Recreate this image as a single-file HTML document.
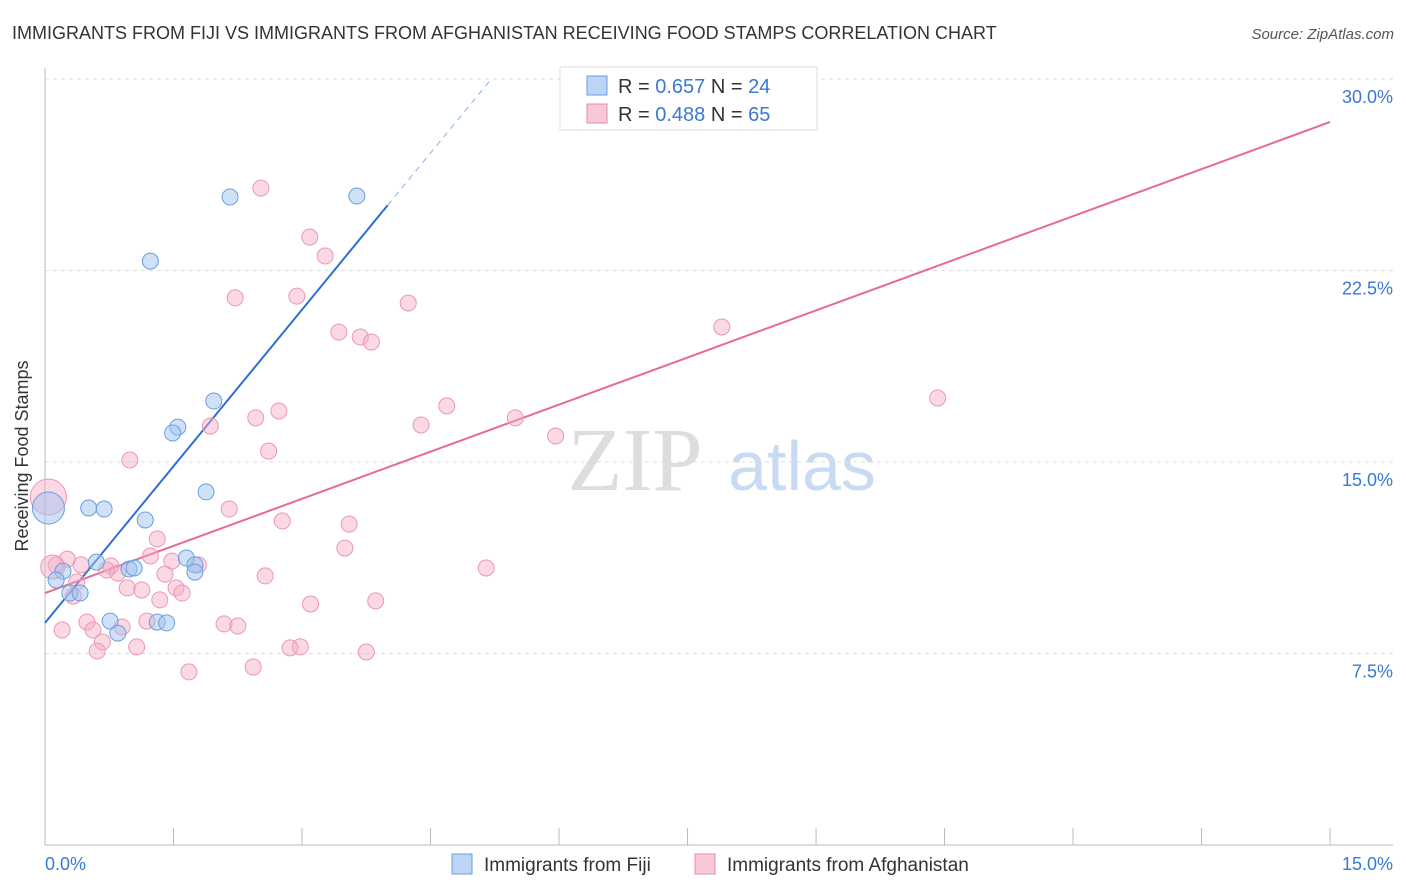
<!DOCTYPE html>
<html><head><meta charset="utf-8"><style>
body{margin:0;background:#fff;font-family:"Liberation Sans",sans-serif;}
svg{display:block}
</style></head><body>
<svg id="chart" width="1406" height="892" xmlns="http://www.w3.org/2000/svg">
<text x="12" y="39" font-size="18" fill="#333">IMMIGRANTS FROM FIJI VS IMMIGRANTS FROM AFGHANISTAN RECEIVING FOOD STAMPS CORRELATION CHART</text>
<text x="1394" y="39" font-size="15" fill="#555" font-style="italic" text-anchor="end">Source: ZipAtlas.com</text>
<text x="28" y="456" font-size="18" fill="#333" text-anchor="middle" transform="rotate(-90 28 456)">Receiving Food Stamps</text>
<g><text x="635" y="490" font-size="90" fill="#ddd" font-family="Liberation Serif,serif" text-anchor="middle">ZIP</text><text x="802" y="490" font-size="70" fill="#c9dbf2" text-anchor="middle">atlas</text></g>
<g id="grid"></g><g id="axes"></g><g id="lines"></g><g id="pts"></g>
<g>
<rect x="560" y="67" width="257" height="63" fill="#fff" stroke="#ddd"/>
<rect x="587" y="76" width="20" height="19" fill="#bcd5f5" stroke="#6a9fe0"/>
<rect x="587" y="104" width="20" height="19" fill="#f9c8d7" stroke="#e88aa8"/>
<text x="618" y="93" font-size="20" fill="#333">R = <tspan fill="#3a78d6">0.657</tspan>   N = <tspan fill="#3a78d6">24</tspan></text>
<text x="618" y="121" font-size="20" fill="#333">R = <tspan fill="#3a78d6">0.488</tspan>   N = <tspan fill="#3a78d6">65</tspan></text>
</g>
<g>
<rect x="452" y="854" width="20" height="20" fill="#bcd5f5" stroke="#6a9fe0"/>
<text x="484" y="871" font-size="19" fill="#333">Immigrants from Fiji</text>
<rect x="695" y="854" width="20" height="20" fill="#f9c8d7" stroke="#e88aa8"/>
<text x="727" y="871" font-size="19" fill="#333">Immigrants from Afghanistan</text>
</g>
</svg>
<script>
const yTicks=[7.5,15,22.5,30];
const yTickLabels=["7.5%","15.0%","22.5%","30.0%"];
const xLabels=["0.0%","15.0%"];
const fijiX=[2.16,3.64,1.23,1.97,1.55,1.49,1.88,0.51,0.69,1.17,0.04,0.60,1.65,1.75,1.75,0.21,0.13,0.98,1.04,0.29,0.41,0.76,0.85,1.31,1.42];
const fijiY=[25.38,25.42,22.87,17.39,16.37,16.14,13.83,13.20,13.16,12.73,13.20,11.08,11.24,10.97,10.69,10.73,10.38,10.81,10.85,9.87,9.87,8.77,8.30,8.73,8.70];
const fijiR=[8,8,8,8,8,8,8,8,8,8,16,8,8,8,8,8,8,8,8,8,8,8,8,8,8];
const afgX=[2.52,3.09,3.27,2.22,2.94,4.24,3.43,3.68,3.81,7.90,10.42,4.69,2.73,2.46,1.93,4.39,5.49,5.96,0.99,2.61,2.15,2.77,3.55,1.31,3.50,0.26,1.23,0.13,0.42,0.77,1.48,1.79,0.72,0.85,1.40,2.57,5.15,0.37,0.96,1.13,1.53,1.60,0.33,1.34,3.10,3.86,0.49,0.56,0.20,0.90,1.19,2.09,2.25,0.67,1.07,0.61,2.86,2.98,3.75,2.43,1.68,0.04,0.09];
const afgY=[25.73,23.81,23.07,21.43,21.50,21.23,20.09,19.90,19.70,20.29,17.51,17.20,17.00,16.73,16.41,16.45,16.73,16.02,15.08,15.43,13.16,12.69,12.57,11.99,11.63,11.20,11.32,10.97,10.97,10.93,11.12,10.97,10.77,10.65,10.61,10.54,10.85,10.30,10.07,9.99,10.07,9.87,9.75,9.60,9.44,9.56,8.73,8.42,8.42,8.54,8.77,8.66,8.58,7.95,7.76,7.60,7.72,7.76,7.56,6.97,6.78,13.63,10.89];
const fijiLine=[0,8.70,5.22,30.05];
const afgLine=[0,9.87,15,28.32];
const sx=v=>45+v*85.67, sy=v=>845-v*25.53;
const NS="http://www.w3.org/2000/svg";
function mk(tag,attrs,parent){const e=document.createElementNS(NS,tag);for(const k in attrs)e.setAttribute(k,attrs[k]);document.getElementById(parent).appendChild(e);return e;}
yTicks.forEach((t,i)=>{
 const g=mk('line',{x1:45,x2:1393,y1:sy(t),y2:sy(t),stroke:'#ddd','stroke-dasharray':'4,4'},'grid');
 
 
 const l=mk('text',{x:1393,y:sy(t)+24,'font-size':18,fill:'#3a78d6','text-anchor':'end'},'grid');
 l.textContent=yTickLabels[i];
 
 
});
mk('line',{x1:45,x2:45,y1:68,y2:845,stroke:'#bbb'},'axes');
mk('line',{x1:45,x2:1393,y1:845,y2:845,stroke:'#bbb'},'axes');
for(let i=0;i<=10;i++){const t=mk('line',{x1:sx(i*1.5),x2:sx(i*1.5),y1:828,y2:845,stroke:'#bbb'},'axes');
 
 }
const xl0=mk('text',{x:45,y:870,'font-size':18,fill:'#3a78d6'},'axes');xl0.textContent=xLabels[0];


const xl1=mk('text',{x:1393,y:870,'font-size':18,fill:'#3a78d6','text-anchor':'end'},'axes');xl1.textContent=xLabels[1];


afgX.forEach((x,i)=>{const c=mk('circle',{cx:sx(x),cy:sy(afgY[i]),r:i==61?18:(i==62?12:8),fill:'rgba(245,170,195,0.45)',stroke:'#ec97b3','stroke-width':1},'pts');
 
 });
fijiX.forEach((x,i)=>{const c=mk('circle',{cx:sx(x),cy:sy(fijiY[i]),r:fijiR[i],fill:'rgba(160,195,240,0.5)',stroke:'#6a9fe0','stroke-width':1},'pts');
 
 });
const fx=4.0, fy=fijiLine[1]+(fijiLine[3]-fijiLine[1])*fx/fijiLine[2];
const b1=mk('line',{x1:sx(fijiLine[0]),y1:sy(fijiLine[1]),x2:sx(fx),y2:sy(fy),stroke:'#2d6fd6','stroke-width':2},'lines');


const b2=mk('line',{x1:sx(fx),y1:sy(fy),x2:sx(fijiLine[2]),y2:sy(fijiLine[3]),stroke:'#8ab0e6','stroke-width':1,'stroke-dasharray':'6,5'},'lines');


const p1=mk('line',{x1:sx(afgLine[0]),y1:sy(afgLine[1]),x2:sx(afgLine[2]),y2:sy(afgLine[3]),stroke:'#e66a95','stroke-width':2},'lines');


</script>
</body></html>
